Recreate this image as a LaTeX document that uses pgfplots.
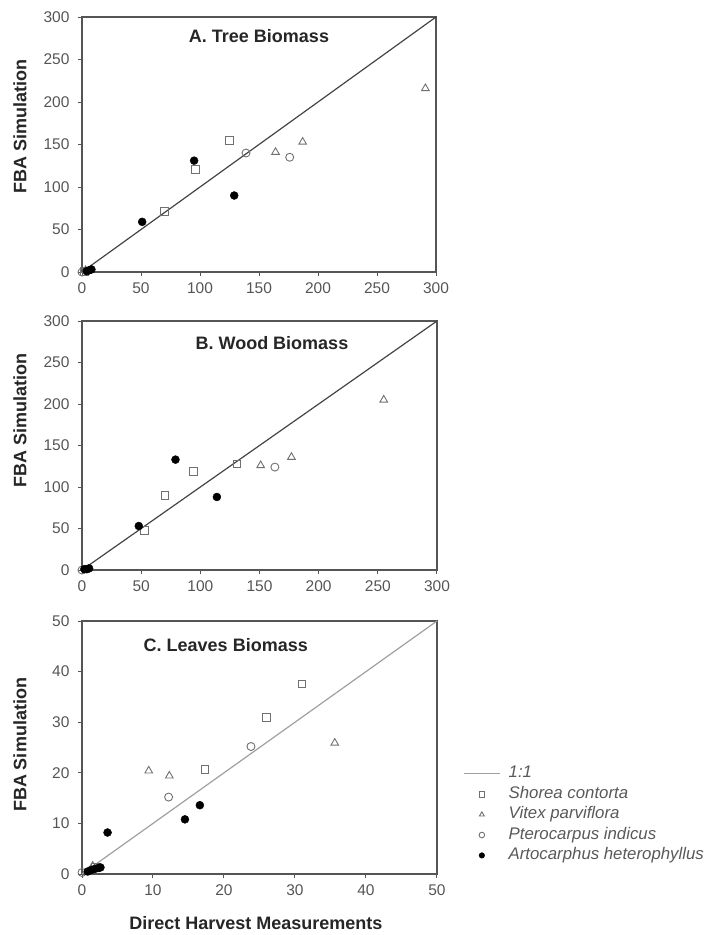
\documentclass[border=0pt]{standalone}
\usepackage{fontspec}
\setmainfont{Liberation Sans}
\usepackage{pgfplots}
\pgfplotsset{compat=1.18}

\definecolor{axgray}{HTML}{555555}
\definecolor{mkgray}{HTML}{707070}
\definecolor{onegray}{HTML}{444444}
\definecolor{lightone}{HTML}{A0A0A0}

\pgfplotsset{
  panel/.style={
    scale only axis,
    axis line style={axgray, line width=1.4pt},
    tick style={axgray, line width=1pt},
    tick align=outside,
    major tick length=4pt,
    xtick pos=bottom, ytick pos=left,
    ticklabel style={font=\fontsize{15.5}{15.5}\selectfont, text=axgray},
    xticklabel style={yshift=-3pt},
    yticklabel style={xshift=-5pt},
    /pgf/number format/assume math mode=true,
    clip=false,
    ylabel={FBA Simulation},
    ylabel style={font=\bfseries\fontsize{18}{18}\selectfont, text=black!85},
    legend image code/.code={\draw[mark repeat=2,mark phase=2,#1] plot coordinates {(0pt,0pt) (18pt,0pt) (36pt,0pt)};},
  },
  sq/.style={only marks, mark=square, mark size=3.8pt, mkgray, mark options={line width=0.9pt}},
  tri/.style={only marks, mark=triangle, mark size=4.4pt, mkgray, mark options={line width=0.9pt}},
  circ/.style={only marks, mark=o, mark size=4pt, mkgray, mark options={line width=0.9pt}},
  fcirc/.style={only marks, mark=*, mark size=4pt, black},
}

\begin{document}
\begin{tikzpicture}
\useasboundingbox (0,-935pt) rectangle (708pt,0);

% A. Tree
\begin{axis}[panel, at={(82pt,-272pt)}, anchor=south west,
  width=354pt, height=255pt,
  xmin=0, xmax=300, ymin=0, ymax=300,
  xtick={0,50,...,300}, ytick={0,50,...,300},
  ylabel style={at={(rel axis cs:0,0.57)}, yshift=62pt, anchor=center}]
  \addplot[onegray, line width=1.2pt] coordinates {(0,0) (300,300)};
  \addplot[sq] coordinates {(70,71) (96,121) (125,155) (2,1)};
  \addplot[tri] coordinates {(164,141) (187,153) (291,216) (3,2)};
  \addplot[circ] coordinates {(139,140) (176,135) (0,0)};
  \addplot[fcirc] coordinates {(51,59) (95,131) (129,90) (4,1) (6,2) (8,3)};
  \node[font=\bfseries\fontsize{18}{18}\selectfont, text=black!85] at (rel axis cs:0.5,0.925) {A. Tree Biomass};
\end{axis}

% B. Wood
\begin{axis}[panel, at={(82pt,-570pt)}, anchor=south west,
  width=355pt, height=249pt,
  xmin=0, xmax=300, ymin=0, ymax=300,
  xtick={0,50,...,300}, ytick={0,50,...,300},
  ylabel style={at={(rel axis cs:0,0.6)}, yshift=62pt, anchor=center}]
  \addplot[onegray, line width=1.2pt] coordinates {(0,0) (300,300)};
  \addplot[sq] coordinates {(53,48) (70,90) (94,119) (131,128)};
  \addplot[tri] coordinates {(151,126) (177,136) (255,205)};
  \addplot[circ] coordinates {(163,124) (0,0)};
  \addplot[fcirc] coordinates {(48,53) (79,133) (114,88) (2,1) (4,1) (6,2)};
  \node[font=\bfseries\fontsize{18}{18}\selectfont, text=black!85] at (rel axis cs:0.535,0.91) {B. Wood Biomass};
\end{axis}

% C. Leaves
\begin{axis}[panel, at={(82pt,-874pt)}, anchor=south west,
  width=355pt, height=253pt,
  xmin=0, xmax=50, ymin=0, ymax=50,
  xtick={0,10,...,50}, ytick={0,10,...,50},
  ylabel style={at={(rel axis cs:0,0.51)}, yshift=62pt, anchor=center},
  xlabel={Direct Harvest Measurements},
  xlabel style={font=\bfseries\fontsize{18}{18}\selectfont, text=black!85,
    at={(rel axis cs:0.49,0)}, yshift=-49pt, anchor=center},
  legend cell align=left,
  legend image post style={mark size=2.8pt},
  legend style={at={(rel axis cs:1.065,0.445)}, anchor=north west, draw=none, fill=none,
    font=\itshape\fontsize{16.8}{16.8}\selectfont, text=black!65, row sep=0pt,
    /tikz/every odd column/.append style={column sep=6pt},
    nodes={text height=12pt, text depth=4pt, inner sep=2.2pt}}]
  \addplot[lightone, line width=1.2pt] coordinates {(0,0) (50,50)};
  \addlegendentry{1:1}
  \addplot[sq] coordinates {(17.3,20.7) (26,31) (31,37.6) (1.9,1.3)};
  \addlegendentry{Shorea contorta}
  \addplot[tri] coordinates {(9.4,20.4) (12.3,19.4) (35.6,25.9) (1.5,1.6)};
  \addlegendentry{Vitex parviflora}
  \addplot[circ] coordinates {(12.2,15.2) (23.8,25.2) (0,0.3)};
  \addlegendentry{Pterocarpus indicus}
  \addplot[fcirc] coordinates {(3.6,8.2) (14.5,10.8) (16.6,13.6) (0.8,0.5) (1.3,0.8) (1.8,1.0) (2.3,1.2) (2.6,1.3)};
  \addlegendentry{Artocarphus heterophyllus}
  \node[font=\bfseries\fontsize{18}{18}\selectfont, text=black!85] at (rel axis cs:0.405,0.905) {C. Leaves Biomass};
\end{axis}
\end{tikzpicture}
\end{document}
